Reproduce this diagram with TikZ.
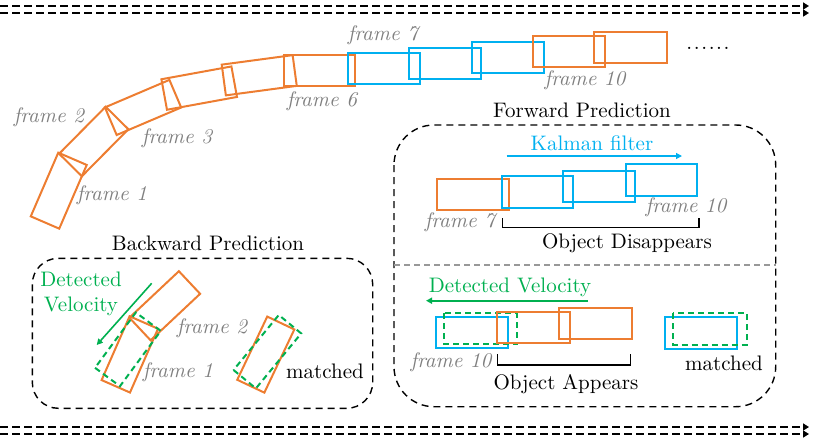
\documentclass[tikz,border=0pt]{standalone}
\usepackage{fontspec}
\usetikzlibrary{positioning,calc,arrows.meta}

\definecolor{detorange}{HTML}{ED7D31}
\definecolor{predblue}{HTML}{00B0F0}
\definecolor{velgreen}{HTML}{00B050}
\definecolor{labelgray}{HTML}{7F7F7F}

%tilted box: start centre, end centre, half width
\newcommand{\tiltbox}[3]{($(#1)!#3!90:(#2)$) -- ($(#1)!#3!-90:(#2)$) -- ($(#2)!#3!90:(#1)$) -- ($(#2)!#3!-90:(#1)$) -- cycle}

\begin{document}
\begin{tikzpicture}[x=0.5pt, y=-0.5pt, font=\fontsize{10.5}{12.5}\selectfont,
  det/.style={draw=detorange, line width=1pt},
  pred/.style={draw=predblue, line width=1pt},
  vel/.style={draw=velgreen, line width=1pt, dash pattern=on 3pt off 2pt},
  framelbl/.style={text=labelgray, font=\fontsize{10.5}{12.5}\selectfont\itshape},
  region/.style={draw, line width=0.7pt, dash pattern=on 3.5pt off 2.5pt},
  bracket/.style={draw, line width=0.75pt},
  timeline/.style={line width=0.75pt, dash pattern=on 4pt off 2pt, -{Triangle[length=3pt, width=3.5pt]}},
  arrow/.style={-{Triangle[length=3pt, width=3pt]}}]

\useasboundingbox (0,0) rectangle (814,440);

%time lines
\coordinate (t1s) at (0,6);   \coordinate (t1e) at (809,6);
\coordinate (t2s) at (0,13);  \coordinate (t2e) at (809,13);
\coordinate (t3s) at (0,427); \coordinate (t3e) at (809,427);
\coordinate (t4s) at (0,434); \coordinate (t4e) at (809,434);
\draw[timeline] (t1s) -- (t1e);
\draw[timeline] (t2s) -- (t2e);
\draw[timeline] (t3s) -- (t3e);
\draw[timeline] (t4s) -- (t4e);

%trajectory
\draw[det] \tiltbox{45,222.5}{72.5,158.8}{7.75pt};
\draw[det] \tiltbox{70.5,165}{117,118}{8pt};
\draw[det] \tiltbox{110.8,121.2}{175.3,93.7}{7.5pt};
\draw[det] \tiltbox{164.2,94.5}{234.2,81.7}{7.75pt};
\draw[det] \tiltbox{223.8,80}{294.7,70.5}{7.75pt};
\draw[det] (283.5,55) rectangle (355,86);
\draw[pred] (347.5,53.3) rectangle (420,84);
\draw[pred] (409.3,47.7) rectangle (480.7,79);
\draw[pred] (471.7,41.7) rectangle (544,72.7);
\draw[det] (532.7,36) rectangle (605,67.3);
\draw[det] (594.3,31.7) rectangle (666.7,63.3);
\node (dots) at (708,48) {.\kern.8pt.\kern.8pt.\kern.8pt.\kern.8pt.\kern.8pt.};

\node[framelbl] (f1) at (112,195) {frame 1};
\node[framelbl] (f2) at (49,117) {frame 2};
\node[framelbl] (f3) at (177,138) {frame 3};
\node[framelbl] (f6) at (322,101) {frame 6};
\node[framelbl] (f7) at (383,35) {frame 7};
\node[framelbl] (f10) at (585,80) {frame 10};

%forward prediction
\node (fwd) at (582,110) {Forward Prediction};
\draw[region, rounded corners=20pt] (394,125) rectangle (775.7,406.7);
\draw[labelgray!80, line width=0.6pt, dash pattern=on 3pt off 2pt] (394,265) -- (775.7,265);

\node[text=predblue] (kalman) at (592,143) {Kalman filter};
\coordinate (ks) at (506.7,156); \coordinate (ke) at (682,156);
\draw[arrow, predblue, line width=0.6pt] (ks) -- (ke);

\draw[det] (437.3,179) rectangle (509.3,210);
\draw[pred] (501.7,176) rectangle (573.3,207.7);
\draw[pred] (562.7,171) rectangle (635,202);
\draw[pred] (625.7,164.3) rectangle (697.3,196);
\node[framelbl] (ff10) at (686,207) {frame 10};
\node[framelbl] (ff7) at (460,222) {frame 7};
\draw[bracket] (502.7,218) -- (502.7,227.7) -- (699,227.7) -- (699,218);
\node (disap) at (627,243) {Object Disappears};

\node[text=velgreen] (fvel) at (510,287) {Detected Velocity};
\coordinate (fvs) at (588,300.7); \coordinate (fve) at (426,300.7);
\draw[arrow, velgreen, line width=0.8pt] (fvs) -- (fve);

\draw[pred] (436,317.3) rectangle (508.3,348.3);
\draw[vel] (444.3,313.3) rectangle (516.7,344.3);
\draw[det] (497.3,311.7) rectangle (570,343.3);
\draw[det] (559.3,307.7) rectangle (631.7,339.3);
\node[framelbl] (fa10) at (451,362) {frame 10};
\draw[bracket] (497.3,354) -- (497.3,365) -- (630.7,365) -- (630.7,354);
\node (appear) at (566,384) {Object Appears};

\draw[pred] (665,317.3) rectangle (736.7,349);
\draw[vel] (673.3,313.3) rectangle (746.7,345);
\node (fmatch) at (724,363) {matched};

%backward prediction
\node (bwd) at (208,243) {Backward Prediction};
\draw[region, rounded corners=13pt] (32.3,258.3) rectangle (372.7,408.3);

\node[text=velgreen, align=center] (bvel) at (81,294) {Detected\\Velocity};
\coordinate (bvs) at (151.7,283.3); \coordinate (bve) at (96.7,345);
\draw[arrow, velgreen, line width=0.8pt] (bvs) -- (bve);

\draw[det] \tiltbox{140,329}{189.5,282.5}{7.75pt};
\draw[det] \tiltbox{115.8,386.3}{143.8,322.5}{7.75pt};
\draw[vel] \tiltbox{107.5,377}{148.3,321.7}{7.75pt};
\node[framelbl] (bf2) at (212,328) {frame 2};
\node[framelbl] (bf1) at (178,372) {frame 1};

\draw[det] \tiltbox{250.8,386.2}{280.8,323}{7.5pt};
\draw[vel] \tiltbox{244.7,379.2}{290,324.2}{7.25pt};
\node (bmatch) at (325,371) {matched};

\end{tikzpicture}
\end{document}
